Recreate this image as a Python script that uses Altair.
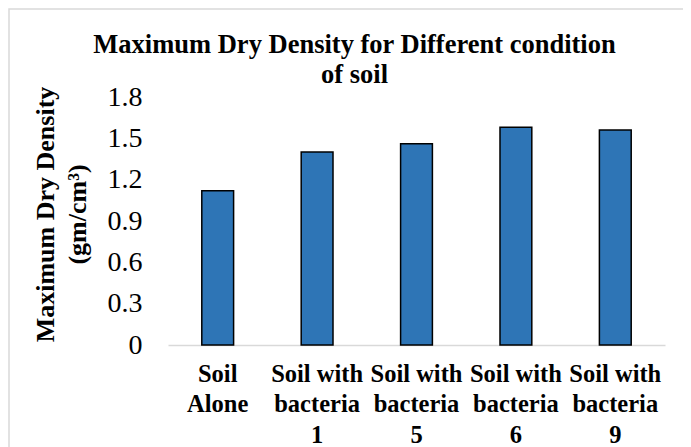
import altair as alt
import pandas as pd

categories = ["Soil|Alone", "Soil with|bacteria|1", "Soil with|bacteria|5",
              "Soil with|bacteria|6", "Soil with|bacteria|9"]
values = [1.12, 1.40, 1.46, 1.58, 1.56]
y_ticks = [0, 0.3, 0.6, 0.9, 1.2, 1.5, 1.8]

FONT = "Liberation Serif"

df = pd.DataFrame({"cat": categories, "val": values})

bars = alt.Chart(df).mark_bar(
    color="#2e75b6", stroke="#000000", strokeWidth=1.5
).encode(
    x=alt.X("cat:N", sort=categories, title=None,
            scale=alt.Scale(paddingInner=0.68, paddingOuter=0.34),
            axis=alt.Axis(labelExpr="split(datum.label, '|')", labelAngle=0,
                          labelFont=FONT, labelFontSize=24.5, labelFontWeight="bold",
                          labelColor="#000000", labelLineHeight=30.5,
                          labelPadding=17, labelBaseline="top",
                          ticks=False, domainColor="#d9d9d9", domainWidth=1.5,
                          grid=False)),
    y=alt.Y("val:Q", scale=alt.Scale(domain=[0, 1.8], nice=False),
            axis=alt.Axis(values=y_ticks, format=".1~f", grid=False, domain=False,
                          ticks=False, labelFont=FONT, labelFontSize=28,
                          labelColor="#000000", labelPadding=26,
                          title=["Maximum Dry Density", "(gm/cm\u00b3)"],
                          titleFont=FONT, titleFontSize=26, titleFontWeight="bold",
                          titleColor="#000000", titleLineHeight=32,
                          titleAngle=-90, titleAlign="center", titleBaseline="top",
                          titleX=-136, titleY=117)),
)

border_df = pd.DataFrame({"k": [0]})
border = alt.Chart(border_df).mark_rect(
    filled=False, stroke="#d9d9d9", strokeWidth=1.5
).encode(
    x=alt.value(-159), x2=alt.value(700),
    y=alt.value(-88), y2=alt.value(500),
)

chart = alt.layer(border, bars).properties(
    width=497, height=248,
    padding={"left": 160, "top": 89, "right": 18, "bottom": 102},
    autosize=alt.AutoSizeParams(type="none"),
    title=alt.TitleParams(
        text=["Maximum Dry Density for Different condition", "of soil"],
        font=FONT, fontSize=26.5, fontWeight="bold", color="#000000",
        lineHeight=30, anchor="middle", dx=-62, offset=-80),
).configure_view(stroke=None)

chart.save("out.html", embed_options={"renderer": "svg", "actions": False})
